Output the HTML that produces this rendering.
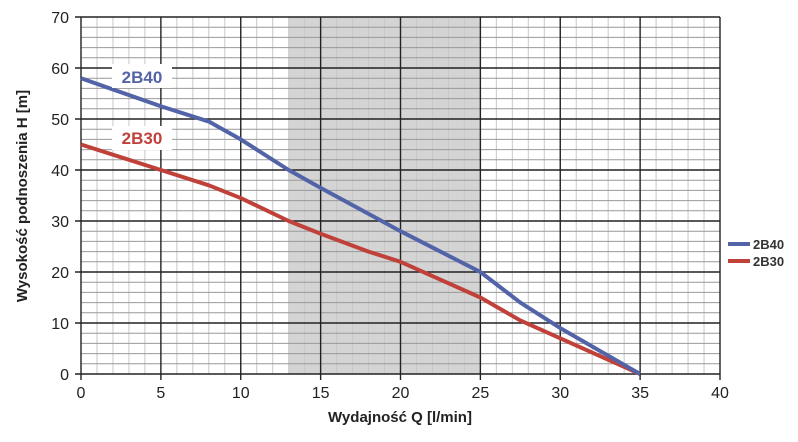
<!DOCTYPE html>
<html><head><meta charset="utf-8"><style>
body{margin:0;background:#fff;width:798px;height:437px;overflow:hidden}
text{font-family:"Liberation Sans",sans-serif}
</style></head><body>
<svg width="798" height="437" xmlns="http://www.w3.org/2000/svg">
<rect x="288.7" y="17" width="191.7" height="357" fill="#d4d4d4"/>
<path fill="none" stroke="#c8c8c8" stroke-width="1" d="M96.98 17V374M112.95 17V374M128.93 17V374M144.9 17V374M176.85 17V374M192.83 17V374M208.8 17V374M224.78 17V374M256.73 17V374M272.7 17V374M288.68 17V374M304.65 17V374M336.6 17V374M352.58 17V374M368.55 17V374M384.53 17V374M416.48 17V374M432.45 17V374M448.43 17V374M464.4 17V374M496.35 17V374M512.33 17V374M528.3 17V374M544.28 17V374M576.23 17V374M592.2 17V374M608.18 17V374M624.15 17V374M656.1 17V374M672.08 17V374M688.05 17V374M704.03 17V374"/>
<path fill="none" stroke="#999" stroke-width="1" d="M81 363.8H720M81 353.6H720M81 343.4H720M81 333.2H720M81 312.8H720M81 302.6H720M81 292.4H720M81 282.2H720M81 261.8H720M81 251.6H720M81 241.4H720M81 231.2H720M81 210.8H720M81 200.6H720M81 190.4H720M81 180.2H720M81 159.8H720M81 149.6H720M81 139.4H720M81 129.2H720M81 108.8H720M81 98.6H720M81 88.4H720M81 78.2H720M81 57.8H720M81 47.6H720M81 37.4H720M81 27.2H720"/>
<path fill="none" stroke="#222" stroke-width="1.4" d="M81 17V380M160.88 17V380M240.75 17V380M320.63 17V380M400.5 17V380M480.38 17V380M560.25 17V380M640.13 17V380M720 17V380M75 374H720M75 323H720M75 272H720M75 221H720M75 170H720M75 119H720M75 68H720M75 17H720"/>
<g font-size="16" text-anchor="middle" fill="#222">
<text x="81" y="398">0</text><text x="160.88" y="398">5</text><text x="240.75" y="398">10</text><text x="320.63" y="398">15</text><text x="400.5" y="398">20</text><text x="480.38" y="398">25</text><text x="560.25" y="398">30</text><text x="640.13" y="398">35</text><text x="720" y="398">40</text>
</g>
<g font-size="16" text-anchor="end" fill="#222">
<text x="69" y="380">0</text><text x="69" y="329">10</text><text x="69" y="278">20</text><text x="69" y="227">30</text><text x="69" y="176">40</text><text x="69" y="125">50</text><text x="69" y="74">60</text><text x="69" y="23">70</text>
</g>
<polyline fill="none" stroke="#c0413a" stroke-width="4" stroke-linejoin="round" points="81,144.5 160.88,170 208.8,185.3 240.75,198.05 288.68,221 320.63,233.75 368.55,251.6 400.5,261.8 440.44,279.65 480.38,297.5 520.31,320.45 560.25,338.3 640.13,374"/>
<polyline fill="none" stroke="#5263a8" stroke-width="4" stroke-linejoin="round" points="81,78.2 160.88,106.25 208.8,121.55 240.75,139.4 288.68,170 320.63,187.85 400.5,231.2 480.38,272 520.31,302.6 560.25,328.1 640.13,374"/>
<rect x="112" y="64" width="60" height="24" fill="#fff"/><text x="142" y="83" font-size="17" font-weight="bold" text-anchor="middle" fill="#5263a8">2B40</text>
<rect x="112" y="126" width="60" height="24" fill="#fff"/><text x="142" y="144" font-size="17" font-weight="bold" text-anchor="middle" fill="#c0413a">2B30</text>
<line x1="728" x2="750" y1="244" y2="244" stroke="#5263a8" stroke-width="4"/>
<text x="753" y="249" font-size="13" font-weight="bold" fill="#333">2B40</text>
<line x1="728" x2="750" y1="261" y2="261" stroke="#c0413a" stroke-width="4"/>
<text x="753" y="266" font-size="13" font-weight="bold" fill="#333">2B30</text>
<text x="400" y="422" font-size="15" font-weight="bold" text-anchor="middle" fill="#222">Wydajność Q [l/min]</text>
<text transform="translate(27,196) rotate(-90)" font-size="15" font-weight="bold" text-anchor="middle" fill="#222">Wysokość podnoszenia H [m]</text>
</svg>
</body></html>
